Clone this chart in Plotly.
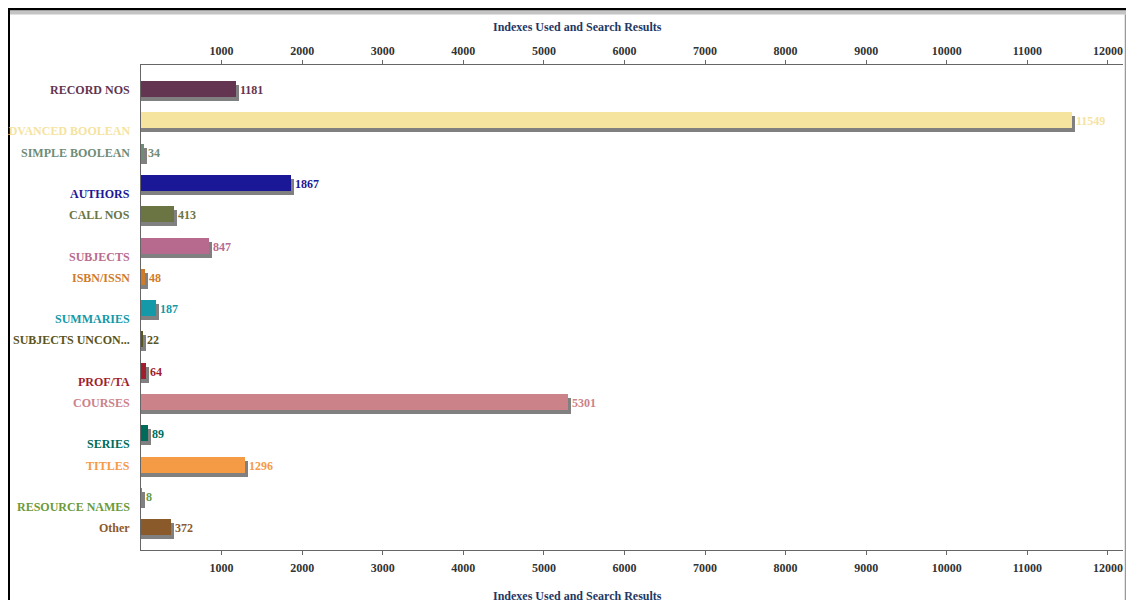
import plotly.graph_objects as go

categories = ["RECORD NOS", "ADVANCED BOOLEAN", "SIMPLE BOOLEAN", "AUTHORS", "CALL NOS",
              "SUBJECTS", "ISBN/ISSN", "SUMMARIES", "SUBJECTS UNCON...", "PROF/TA",
              "COURSES", "SERIES", "TITLES", "RESOURCE NAMES", "Other"]
values = [1181, 11549, 34, 1867, 413, 847, 48, 187, 22, 64, 5301, 89, 1296, 8, 372]
colors = ["#633550", "#F5E3A0", "#6E8C78", "#1A1896", "#6B7543",
          "#B86A8E", "#D07B2A", "#1399A8", "#5A5420", "#A01E2E",
          "#CB8288", "#006B5A", "#F59A45", "#6A9A3A", "#8B5A2B"]
tick_vals = [1000, 2000, 3000, 4000, 5000, 6000, 7000, 8000, 9000, 10000, 11000, 12000]
tick_text = [str(t) for t in tick_vals]
title_text = "Indexes Used and Search Results"

# page body has an 8px margin: work in figure pixels = page pixels - 8
OFF = 8
W, H = 1134 - OFF, 600 - OFF
L, T = 141 - OFF, 65 - OFF
R = W - (1123 - OFF)
B = H - (550 - OFF)
PW, PH = W - L - R, H - T - B
XMAX = 12187
px_per_unit = PW / XMAX
SHADOW_DX = 3 / px_per_unit
ROW_PX = 31.3
FIRST_ROW = 89 - OFF
BAR_W = 16 / ROW_PX
SHADOW_DY = 4 / ROW_PX
y_top = -(FIRST_ROW - T) / ROW_PX
y_bot = (T + PH - FIRST_ROW) / ROW_PX


def pxx(p):
    return (p - OFF - L) / PW


def pxy(p):
    return 1 - (p - OFF - T) / PH


FONT = "Liberation Serif"
idx = list(range(len(categories)))

fig = go.Figure()
fig.add_trace(go.Bar(
    y=idx, x=[v + SHADOW_DX for v in values], orientation="h",
    width=BAR_W, offset=-BAR_W / 2 + SHADOW_DY,
    marker=dict(color="#808080", line=dict(width=0)),
    xaxis="x", yaxis="y", hoverinfo="skip", showlegend=False))
fig.add_trace(go.Bar(
    y=idx, x=values, orientation="h",
    width=BAR_W, offset=-BAR_W / 2,
    marker=dict(color=colors, line=dict(width=0)),
    xaxis="x2", yaxis="y", customdata=categories,
    hovertemplate="%{customdata}: %{x}<extra></extra>", showlegend=False))

annotations = []
for i, (c, v, col) in enumerate(zip(categories, values, colors)):
    annotations.append(dict(
        x=0, xref="paper", y=i, yref="y", text=c, showarrow=False,
        xanchor="right", yanchor="middle", xshift=-9,
        yshift=(-11 if i % 2 == 1 else -1),
        font=dict(family=FONT, size=12, color=col, weight="bold")))
    annotations.append(dict(
        x=v + SHADOW_DX, xref="x", y=i, yref="y", text=str(v), showarrow=False,
        xanchor="left", yanchor="middle", xshift=-1, yshift=-1,
        font=dict(family=FONT, size=12, color=col, weight="bold")))

for ypix in (27, 596):
    annotations.append(dict(
        x=pxx(577), xref="paper", y=pxy(ypix), yref="paper", text=title_text,
        showarrow=False, xanchor="center", yanchor="middle",
        font=dict(family=FONT, size=12, color="#1F3864", weight="bold")))

axis_common = dict(
    range=[0, XMAX], tickvals=tick_vals, ticktext=tick_text, ticks="outside", ticklen=4,
    tickcolor="#666666", showline=True, linecolor="#666666", linewidth=1,
    showgrid=False, zeroline=False,
    tickfont=dict(family=FONT, size=12, color="#333333", weight="bold"))

shapes = [
    dict(type="rect", xref="paper", yref="paper", x0=pxx(8), x1=pxx(10),
         y0=pxy(601), y1=pxy(8), fillcolor="black", line=dict(width=0), layer="above"),
    dict(type="rect", xref="paper", yref="paper", x0=pxx(8), x1=pxx(1134),
         y0=pxy(10.5), y1=pxy(8), fillcolor="black", line=dict(width=0), layer="above"),
    dict(type="rect", xref="paper", yref="paper", x0=pxx(10), x1=pxx(1134),
         y0=pxy(14.5), y1=pxy(10.5), fillcolor="#C4C4C4", line=dict(width=0), layer="above"),
    dict(type="rect", xref="paper", yref="paper", x0=pxx(1126), x1=pxx(1134),
         y0=pxy(600), y1=pxy(14.5), fillcolor="#EEEEEE", line=dict(width=0), layer="above"),
    dict(type="line", xref="paper", yref="paper", x0=pxx(1125.5), x1=pxx(1125.5),
         y0=pxy(600), y1=pxy(14.5), line=dict(width=1.5, color="#999999"), layer="above"),
]

fig.update_layout(
    width=W, height=H,
    margin=dict(l=L, r=R, t=T, b=B, pad=0),
    paper_bgcolor="white", plot_bgcolor="white",
    barmode="overlay", bargap=0,
    xaxis=dict(side="bottom", ticklabelstandoff=3, **axis_common),
    xaxis2=dict(side="top", overlaying="x", **axis_common),
    yaxis=dict(range=[y_bot, y_top], showline=True, linecolor="#666666", linewidth=1,
               showticklabels=False, ticks="", showgrid=False, zeroline=False),
    annotations=annotations, shapes=shapes, showlegend=False,
)

fig.write_html("out.html")
